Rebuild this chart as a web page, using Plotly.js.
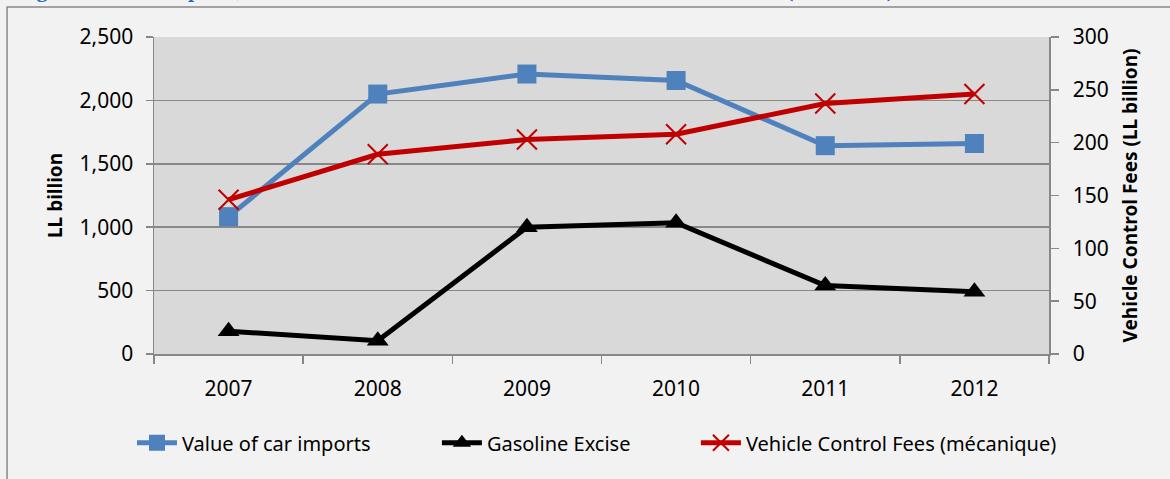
<!DOCTYPE html>
<html>
<head>
<meta charset="utf-8">
<script src="https://cdn.plot.ly/plotly-3.0.1.min.js"></script>
<style>html,body{margin:0;padding:0;background:#F2F2F2;}#chart{width:1170px;height:479px;}</style>
</head>
<body>
<div id="chart"></div>
<script>
const years = ['2007', '2008', '2009', '2010', '2011', '2012'];
const carImports = [1083, 2050, 2208, 2157, 1643, 1660];
const gasolineExcise = [180, 105, 999, 1035, 540, 490];
const vehicleControlFees = [146, 189, 203, 208, 237, 246];
const seriesNames = ['Value of car imports', 'Gasoline Excise', 'Vehicle Control Fees (mécanique)'];
const leftTicks = [0, 500, 1000, 1500, 2000, 2500];
const rightTicks = [0, 50, 100, 150, 200, 250, 300];

const gridGray = '#888888';
const tickFont = {family: 'Noto Sans, sans-serif', size: 21, color: '#000'};
const legendFont = {family: 'Noto Sans, sans-serif', size: 20, color: '#000'};

function legendAt(xPaper) {
  return {orientation: 'h', x: xPaper, xanchor: 'left', y: -0.28, yanchor: 'middle',
    font: legendFont, bgcolor: 'rgba(0,0,0,0)', itemwidth: 40};
}

const traces = [
  {x: years, y: carImports, name: seriesNames[0], type: 'scatter', mode: 'lines+markers', legend: 'legend',
   line: {color: '#4F81BD', width: 5}, marker: {symbol: 'square', size: 19, color: '#4F81BD'}},
  {x: years, y: gasolineExcise, name: seriesNames[1], type: 'scatter', mode: 'lines+markers', legend: 'legend2',
   line: {color: '#000000', width: 5}, marker: {symbol: 'triangle-up', size: 19, color: '#000000'}},
  {x: years, y: vehicleControlFees, name: seriesNames[2], type: 'scatter', mode: 'lines+markers', yaxis: 'y2', legend: 'legend3',
   line: {color: '#C00000', width: 5}, marker: {symbol: 'x-thin-open', size: 20, color: '#C00000', line: {color: '#C00000', width: 2}}}
];

const layout = {
  width: 1170, height: 479,
  margin: {l: 154, r: 121, t: 37, b: 125},
  paper_bgcolor: '#F2F2F2', plot_bgcolor: '#D9D9D9',
  showlegend: true,
  legend: legendAt(-0.0246),
  legend2: legendAt(0.3161),
  legend3: legendAt(0.6055),
  xaxis: {type: 'category', range: [-0.5, 5.5], tickson: 'boundaries', ticks: 'outside', ticklen: 8, tickwidth: 1.5, tickcolor: gridGray,
    showline: true, linecolor: gridGray, linewidth: 1.5, showgrid: false, tickfont: tickFont,
    ticklabelstandoff: 15, fixedrange: true},
  yaxis: {range: [0, 2500], tickvals: leftTicks, tickformat: ',d', ticks: 'outside', ticklen: 7, tickwidth: 1.5,
    tickcolor: gridGray, showline: true, linecolor: gridGray, linewidth: 1.5, showgrid: true, gridcolor: gridGray,
    gridwidth: 1.5, zeroline: false, tickfont: tickFont, ticklabelstandoff: 8,
    title: {text: '<b>LL billion</b>', font: {family: 'Noto Sans, sans-serif', size: 19, color: '#000'}, standoff: 12}},
  yaxis2: {range: [0, 300], tickvals: rightTicks, overlaying: 'y', side: 'right', ticks: 'outside', ticklen: 8, tickwidth: 1.5,
    tickcolor: gridGray, showline: true, linecolor: gridGray, linewidth: 1.5, showgrid: false, zeroline: false,
    tickfont: tickFont, ticklabelstandoff: 10,
    title: {text: '<b>Vehicle Control Fees (LL billion)</b>', font: {family: 'Noto Sans, sans-serif', size: 19, color: '#000'}, standoff: 16}},
  shapes: [
    {type: 'rect', xref: 'paper', yref: 'paper', x0: -0.1642, x1: 1.15, y0: 1.0946, y1: -0.45,
     line: {color: gridGray, width: 1.5}, fillcolor: 'rgba(0,0,0,0)', layer: 'below'}
  ],
  annotations: [
    {xref: 'paper', yref: 'paper', x: -0.155, xanchor: 'left', y: 1.103, yanchor: 'bottom', showarrow: false,
     text: '<b>Figure 14: Car Imports, Revenues from Gasoline Excise and Vehicle Control Fees (LL billion)</b>',
     font: {family: 'Liberation Serif, serif', size: 22, color: '#1F6FC5'}}
  ]
};

Plotly.newPlot('chart', traces, layout, {displayModeBar: false, staticPlot: true});
</script>
</body>
</html>
